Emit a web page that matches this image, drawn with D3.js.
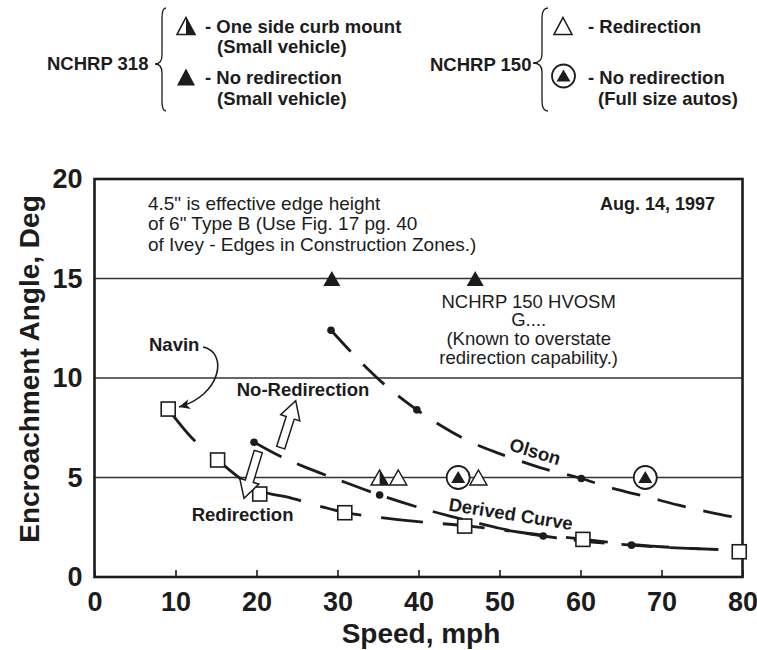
<!DOCTYPE html>
<html><head><meta charset="utf-8">
<script src="https://cdn.jsdelivr.net/npm/d3@7"></script>
<style>body{margin:0;background:#fff}svg{display:block}</style>
</head><body><svg id="c" width="757" height="650"></svg>
<script>
// ---------------- data ----------------
const xTicks = [0,10,20,30,40,50,60,70,80];
const yTicks = [0,5,10,15,20];
const gridValues = [5,10,15];

const navinSquares = [[9.1,8.44],[15.2,5.88],[20.4,4.17],[30.9,3.23],[45.7,2.56],[60.3,1.89],[79.6,1.27]];
const navinCurve = [[9.1,8.44],[12,7.0],[15.2,5.88],[18,4.95],[20.4,4.35],[24,4.0],[27,3.65],[30.9,3.25],[35,3.0],[40,2.78],[45.7,2.58],[50,2.38],[55,2.12],[60.3,1.9],[65,1.68],[70,1.52],[77,1.38]];

const olsonCurve = [[29.2,12.4],[33,10.75],[36,9.6],[39.8,8.4],[43,7.55],[46.6,6.75],[50,6.2],[55,5.5],[60.1,4.95],[64,4.45],[68,4.05],[72,3.62],[76,3.25],[79.7,2.95]];
const olsonDots = [[29.2,12.4],[39.8,8.4],[60.1,4.95]];

const derivedCurve = [[19.7,6.77],[23,6.05],[26,5.52],[29,5.05],[32,4.6],[35.2,4.12],[38,3.75],[41,3.38],[44,3.05],[47,2.75],[50,2.45],[55.4,2.06],[60,1.82],[66.3,1.6],[71,1.48],[77,1.38]];
const derivedDots = [[19.7,6.77],[35.2,4.12],[55.4,2.06],[66.3,1.6]];

const nchrp318NoRedirection = [[29.3,15],[47,15]];
const nchrp318CurbMount = [[35.2,5]];
const nchrp150Redirection = [[37.5,5],[47.4,5]];
const nchrp150NoRedirection = [[44.9,5],[68,5]];

const noteLines = ['4.5" is effective edge height','of 6" Type B (Use Fig. 17 pg. 40','of Ivey - Edges in Construction Zones.)'];
const hvosmLines = ['NCHRP 150 HVOSM','G....','(Known to overstate','redirection capability.)'];

// ---------------- setup ----------------
const BOLD = '"Liberation Sans", Arial, Helvetica, sans-serif';
const REG = '"Liberation Sans", Arial, sans-serif';
const INK = '#1c1c1c';
const svg = d3.select('#c');
const x = d3.scaleLinear().domain([0,80]).range([94.5,742.5]);
const y = d3.scaleLinear().domain([0,20]).range([577,179]);

function triPath(w,h){ return `M0,${-h/2}L${w/2},${h/2}L${-w/2},${h/2}Z`; }
function halfPath(w,h){ return `M0,${-h/2}L${w/2},${h/2}L0,${h/2}Z`; }

// grid
svg.append('g').selectAll('line').data(gridValues).join('line')
  .attr('x1',x(0)).attr('x2',x(80)).attr('y1',d=>y(d)).attr('y2',d=>y(d))
  .attr('stroke','#333').attr('stroke-width',1.6);

// x axis
const gx = svg.append('g').attr('transform',`translate(0,${y(0)})`)
  .call(d3.axisBottom(x).tickValues(xTicks).tickSizeInner(-7).tickSizeOuter(0).tickPadding(15));
gx.select('.domain').remove();
gx.selectAll('line').attr('stroke',INK).attr('stroke-width',1.6);
gx.selectAll('text').attr('font-family',BOLD).attr('font-weight','bold').attr('font-size',27).attr('fill',INK);

// y axis
const gy = svg.append('g').attr('transform',`translate(${x(0)},0)`)
  .call(d3.axisLeft(y).tickValues(yTicks).tickSize(0).tickPadding(12));
gy.select('.domain').remove();
gy.selectAll('text').attr('font-family',BOLD).attr('font-weight','bold').attr('font-size',27).attr('fill',INK);

// frame
svg.append('rect').attr('x',x(0)).attr('y',y(20)).attr('width',x(80)-x(0)).attr('height',y(0)-y(20))
  .attr('fill','none').attr('stroke',INK).attr('stroke-width',2.6);

// axis titles
svg.append('text').attr('x',421).attr('y',643).attr('text-anchor','middle')
  .attr('font-family',BOLD).attr('font-weight','bold').attr('font-size',28).attr('fill',INK).text('Speed, mph');
svg.append('text').attr('transform','translate(39,369) rotate(-90)').attr('text-anchor','middle')
  .attr('font-family',BOLD).attr('font-weight','bold').attr('font-size',28).attr('fill',INK).text('Encroachment Angle, Deg');

// curves
const line = d3.line().x(d=>x(d[0])).y(d=>y(d[1])).curve(d3.curveMonotoneX);
svg.append('path').datum(navinCurve).attr('d',line).attr('fill','none').attr('stroke',INK)
  .attr('stroke-width',2.8).attr('stroke-dasharray','42,20');
svg.append('path').datum(derivedCurve).attr('d',line).attr('fill','none').attr('stroke',INK)
  .attr('stroke-width',2.8).attr('stroke-dasharray','31,17');
svg.append('path').datum(olsonCurve).attr('d',line).attr('fill','none').attr('stroke',INK)
  .attr('stroke-width',2.8).attr('stroke-dasharray','29,18');

// dots
svg.append('g').selectAll('circle').data(olsonDots.concat(derivedDots)).join('circle')
  .attr('cx',d=>x(d[0])).attr('cy',d=>y(d[1])).attr('r',3.8).attr('fill',INK);

// squares
svg.append('g').selectAll('rect').data(navinSquares).join('rect')
  .attr('x',d=>x(d[0])-7).attr('y',d=>y(d[1])-7).attr('width',14).attr('height',14)
  .attr('fill','#fff').attr('stroke',INK).attr('stroke-width',1.6);

// triangles
svg.append('g').selectAll('path').data(nchrp318NoRedirection).join('path')
  .attr('transform',d=>`translate(${x(d[0])},${y(d[1])})`).attr('d',triPath(17,15)).attr('fill',INK);
const cm = svg.append('g').selectAll('g').data(nchrp318CurbMount).join('g')
  .attr('transform',d=>`translate(${x(d[0])},${y(d[1])})`);
cm.append('path').attr('d',triPath(17,15)).attr('fill','#fff').attr('stroke',INK).attr('stroke-width',1.5);
cm.append('path').attr('d',halfPath(17,15)).attr('fill',INK);
svg.append('g').selectAll('path').data(nchrp150Redirection).join('path')
  .attr('transform',d=>`translate(${x(d[0])},${y(d[1])})`).attr('d',triPath(17,15))
  .attr('fill','#fff').attr('stroke',INK).attr('stroke-width',1.5);
const cr = svg.append('g').selectAll('g').data(nchrp150NoRedirection).join('g')
  .attr('transform',d=>`translate(${x(d[0])},${y(d[1])})`);
cr.append('circle').attr('r',11.5).attr('fill','#fff').attr('stroke',INK).attr('stroke-width',1.8);
cr.append('path').attr('d',triPath(14,12)).attr('transform','translate(0,-0.5)').attr('fill',INK);

// ---------------- annotations ----------------
noteLines.forEach((t,i)=>svg.append('text').attr('x',x(6.6)).attr('y',y(18.44)+i*20.3)
  .attr('font-family',REG).attr('font-size',19).attr('fill',INK).text(t));
svg.append('text').attr('x',x(76.6)).attr('y',y(18.44)).attr('text-anchor','end')
  .attr('font-family',BOLD).attr('font-weight','bold').attr('font-size',18).attr('fill',INK).text('Aug. 14, 1997');
hvosmLines.forEach((t,i)=>svg.append('text').attr('x',x(53.6)).attr('y',y(13.54)+i*18.7).attr('text-anchor','middle')
  .attr('font-family',REG).attr('font-size',18.5).attr('fill',INK).text(t));

function boldLabel(t,px,py,anchor,rot){
  svg.append('text').attr('transform',`translate(${px},${py}) rotate(${rot||0})`)
    .attr('text-anchor',anchor).attr('dominant-baseline','central')
    .attr('font-family',BOLD).attr('font-weight','bold').attr('font-size',18.5).attr('fill',INK).text(t);
}
boldLabel('Navin',x(6.73),y(11.66),'start');
boldLabel('No-Redirection',x(17.56),y(9.4),'start');
boldLabel('Redirection',x(12.0),y(3.12),'start');
boldLabel('Olson',x(54.4),y(6.31),'middle',17);
boldLabel('Derived Curve',x(51.4),y(3.17),'middle',9);

// Navin curved arrow
const nP = [[13.4,11.56],[16.48,11.31],[15.74,9.15],[10.43,8.54]].map(d=>[x(d[0]),y(d[1])]);
svg.append('path').attr('d',`M${nP[0]}C${nP[1]} ${nP[2]} ${nP[3]}`).attr('fill','none')
  .attr('stroke',INK).attr('stroke-width',1.6);
(function(){
  const [tx,ty]=nP[3], [cx,cy]=nP[2];
  const a=Math.atan2(ty-cy,tx-cx);
  svg.append('path').attr('transform',`translate(${tx},${ty}) rotate(${a*180/Math.PI})`)
    .attr('d','M0,0L-11,-5L-8,0L-11,5Z').attr('fill',INK);
})();

// block arrows
function blockArrow(t0,t1){
  const [ax,ay]=[x(t0[0]),y(t0[1])],[bx,by]=[x(t1[0]),y(t1[1])];
  const L=Math.hypot(bx-ax,by-ay), ux=(bx-ax)/L, uy=(by-ay)/L, nx=-uy, ny=ux;
  const sw=4.2, hw=10, hl=18;
  const kx=bx-ux*hl, ky=by-uy*hl;
  const pts=[[ax+nx*sw,ay+ny*sw],[kx+nx*sw,ky+ny*sw],[kx+nx*hw,ky+ny*hw],[bx,by],
             [kx-nx*hw,ky-ny*hw],[kx-nx*sw,ky-ny*sw],[ax-nx*sw,ay-ny*sw]];
  svg.append('path').attr('d','M'+pts.join('L')+'Z').attr('fill','#fff').attr('stroke',INK).attr('stroke-width',1.5);
}
blockArrow([22.99,6.5],[24.84,8.86]);
blockArrow([20.22,6.3],[18.46,3.95]);

// ---------------- legend ----------------
function legText(t,px,py){
  svg.append('text').attr('x',px).attr('y',py).attr('dominant-baseline','central')
    .attr('font-family',BOLD).attr('font-weight','bold').attr('font-size',18.5).attr('fill',INK).text(t);
}
function brace(xr,xl,y1,y2,ym){
  const xm=(xr+xl)/2+1.5;
  const d=`M${xr},${y1}Q${xm},${y1} ${xm},${y1+10}L${xm},${ym-9}Q${xm},${ym} ${xl},${ym}Q${xm},${ym} ${xm},${ym+9}L${xm},${y2-10}Q${xm},${y2} ${xr},${y2}`;
  svg.append('path').attr('d',d).attr('fill','none').attr('stroke',INK).attr('stroke-width',1.3);
}
legText('NCHRP 318',47,63);
brace(166,155,8,111,64);
let g1 = svg.append('g').attr('transform','translate(186,26)');
g1.append('path').attr('d',triPath(18,17)).attr('fill','#fff').attr('stroke',INK).attr('stroke-width',1.6);
g1.append('path').attr('d',halfPath(18,17)).attr('fill',INK);
legText('- One side curb mount',205,26);
legText('(Small vehicle)',217,46);
svg.append('path').attr('transform','translate(186,77)').attr('d',triPath(18,17)).attr('fill',INK);
legText('- No redirection',205,77);
legText('(Small vehicle)',217,98);

legText('NCHRP 150',430,64);
brace(548,533,8,111,63);
svg.append('path').attr('transform','translate(563,26)').attr('d',triPath(18,17)).attr('fill','#fff').attr('stroke',INK).attr('stroke-width',1.6);
legText('- Redirection',588,26);
let g2 = svg.append('g').attr('transform','translate(563.5,76)');
g2.append('circle').attr('r',11.5).attr('fill','#fff').attr('stroke',INK).attr('stroke-width',1.8);
g2.append('path').attr('d',triPath(14,12)).attr('transform','translate(0,-0.5)').attr('fill',INK);
legText('- No redirection',588,77);
legText('(Full size autos)',598,98);
</script></body></html>
